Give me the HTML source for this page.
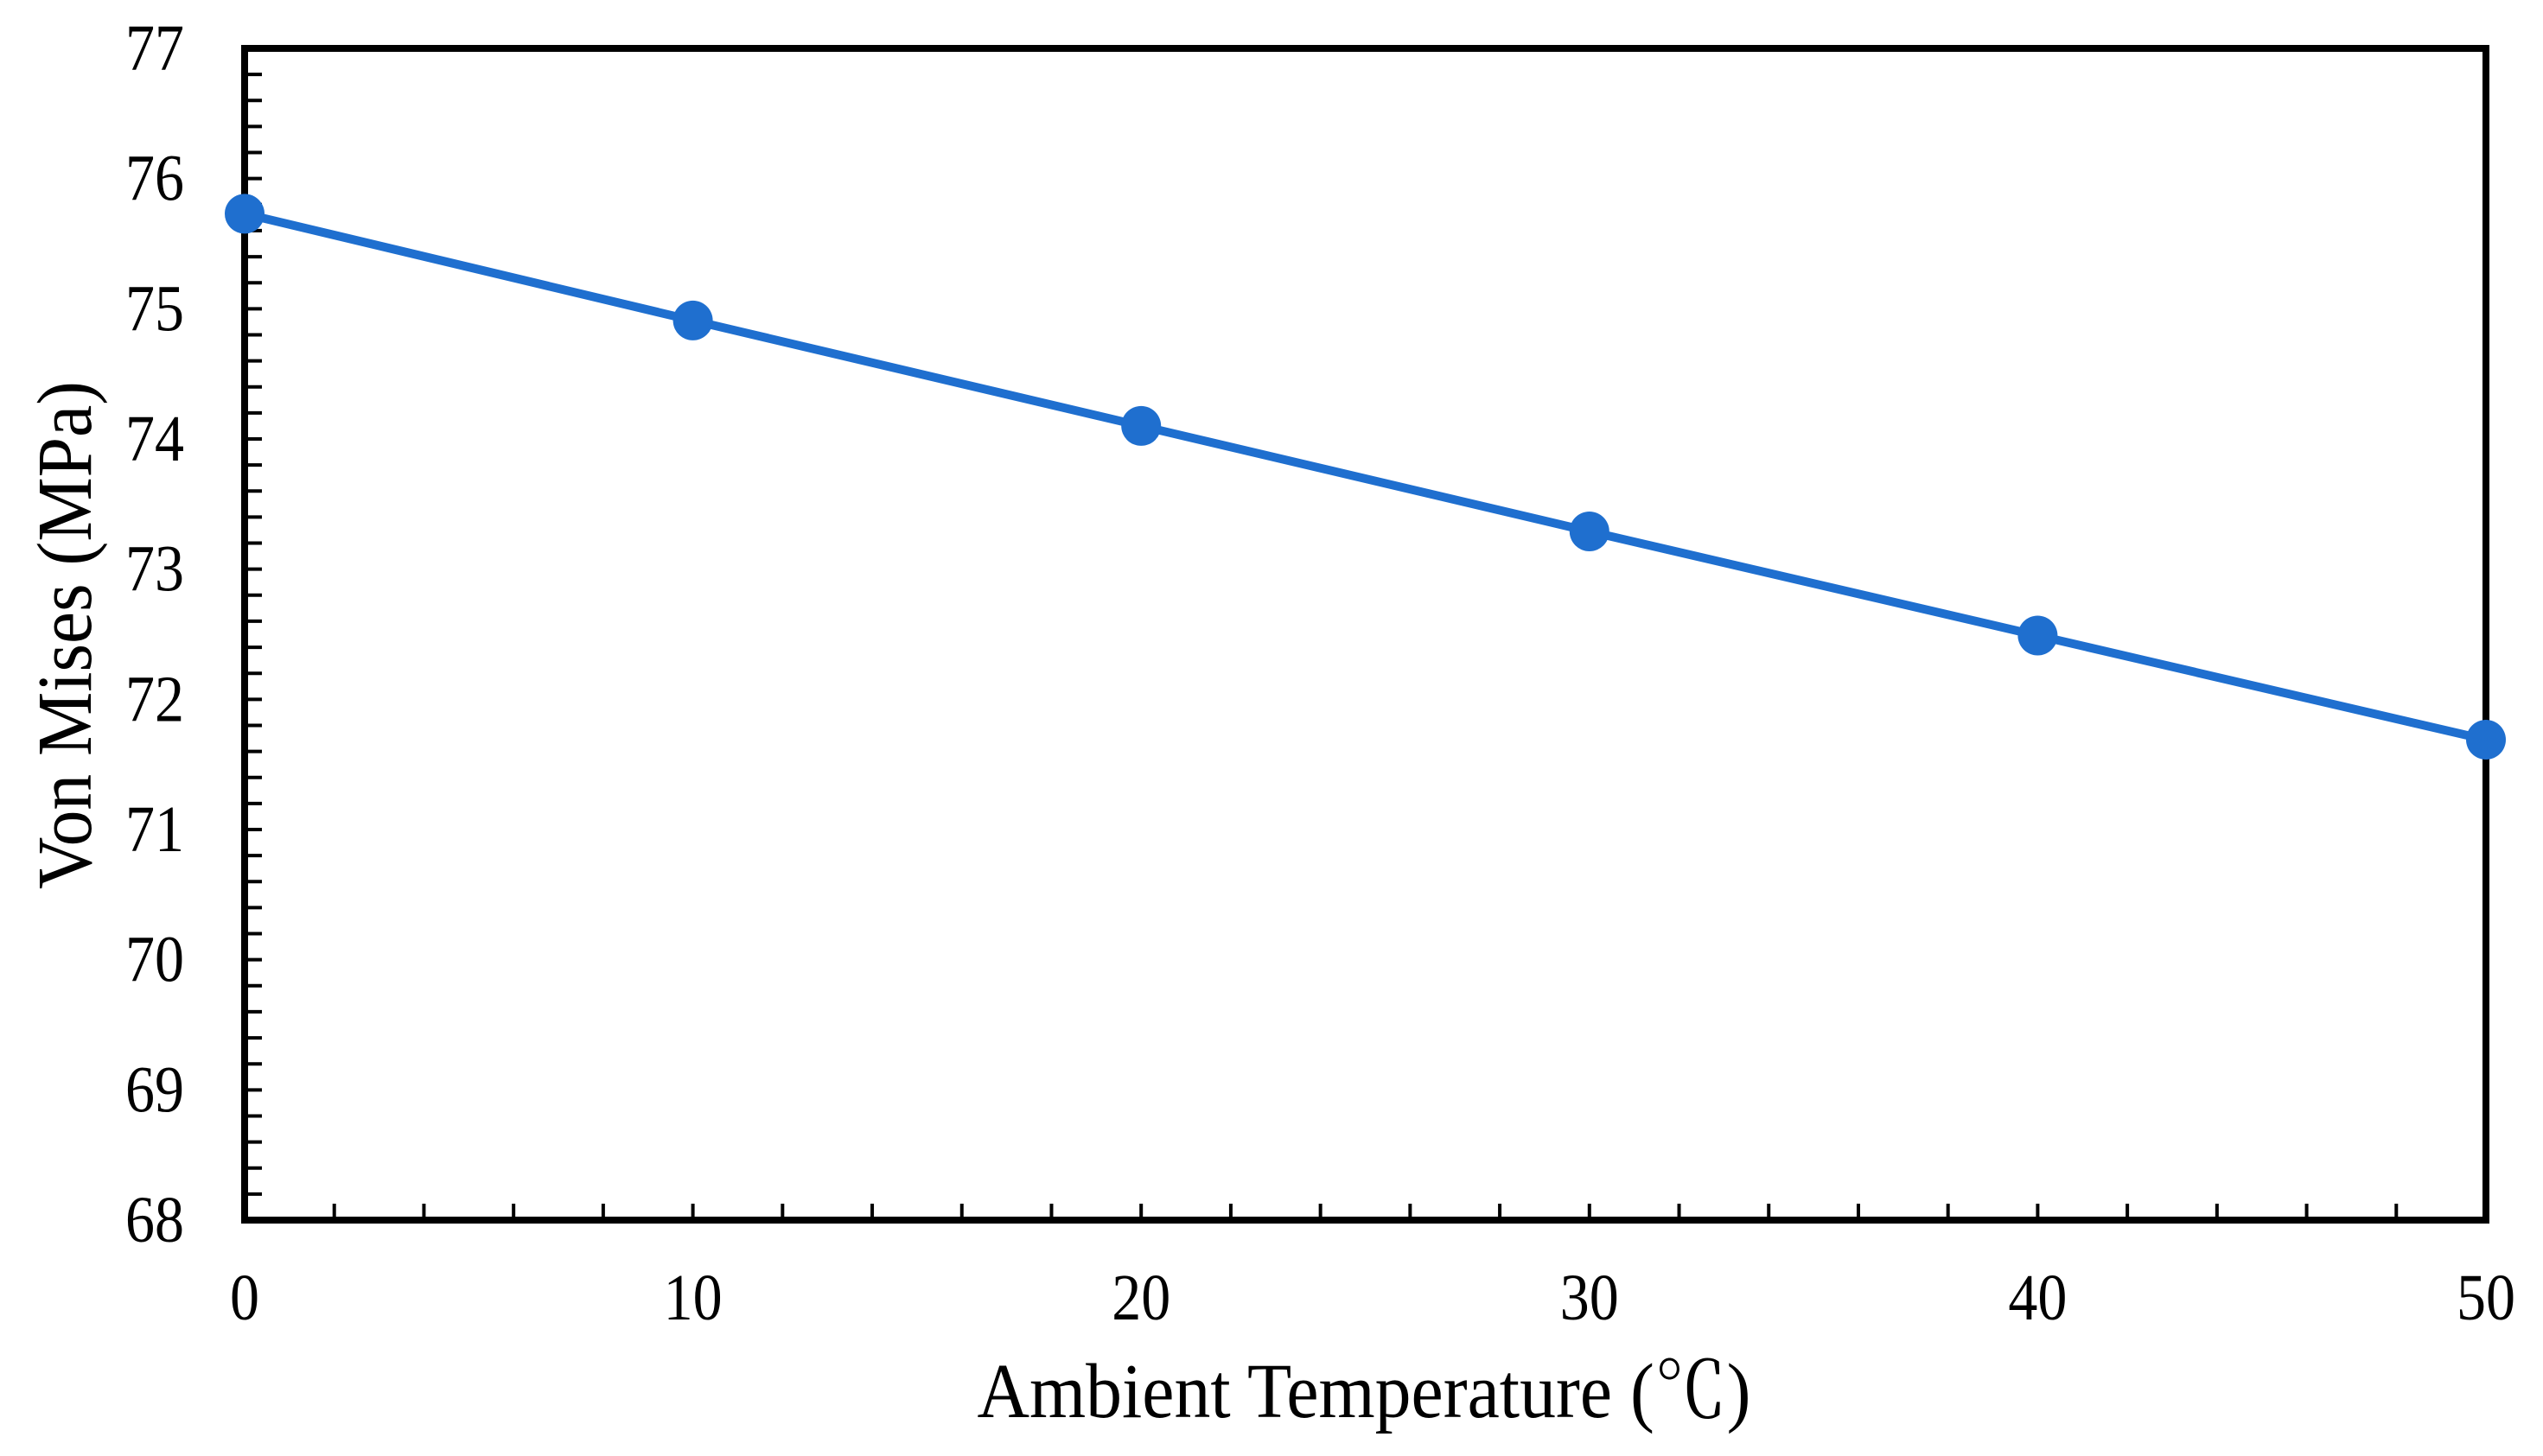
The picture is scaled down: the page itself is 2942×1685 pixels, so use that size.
<!DOCTYPE html>
<html><head><meta charset="utf-8"><style>
html,body{margin:0;padding:0;background:#fff;}
svg{display:block;font-family:"Liberation Serif","Noto Serif CJK SC",serif;}
</style></head><body>
<svg id="chart" width="2942" height="1685" viewBox="0 0 2942 1685" xmlns="http://www.w3.org/2000/svg">
<g id="ticks"></g>
<g id="labels"></g>
<rect x="283" y="56" width="2593" height="1356" fill="none" stroke="#000" stroke-width="8"/>
<g id="series"></g>
<text x="1578" y="1640" font-size="90" text-anchor="middle" textLength="895" lengthAdjust="spacingAndGlyphs">Ambient Temperature (℃)</text>
<text x="0" y="0" font-size="90" text-anchor="middle" textLength="588" lengthAdjust="spacingAndGlyphs" transform="translate(105,735) rotate(-90)">Von Mises (MPa)</text>
</svg>
<script>
const xValues = [0, 10, 20, 30, 40, 50];
const yValues = [75.73, 74.91, 74.1, 73.29, 72.49, 71.69];
const xTickLabels = ["0", "10", "20", "30", "40", "50"];
const yTickLabels = ["68", "69", "70", "71", "72", "73", "74", "75", "76", "77"];

const L = 283, R = 2876, T = 56, B = 1412;
const xMin = 0, xMax = 50, yMin = 68, yMax = 77;
function sx(v){ return L + (v - xMin) / (xMax - xMin) * (R - L); }
function sy(v){ return B - (v - yMin) / (yMax - yMin) * (B - T); }
const NS = "http://www.w3.org/2000/svg";
function mk(tag, attrs){ const e = document.createElementNS(NS, tag); for (const k in attrs) e.setAttribute(k, attrs[k]); return e; }

const ticks = document.getElementById('ticks');
for (let v = 68; v <= 77.001; v += 0.2) {
  const y = sy(v);
  const t = mk('line', {x1: L, x2: L + 20, y1: y, y2: y, stroke: '#000', 'stroke-width': 4});
  
  
  ticks.appendChild(t);
}
for (let v = 2; v < 50; v += 2) {
  const x = sx(v);
  const t = mk('line', {x1: x, x2: x, y1: B, y2: B - 19, stroke: '#000', 'stroke-width': 4});
  
  
  ticks.appendChild(t);
}
const labels = document.getElementById('labels');
yTickLabels.forEach(s => {
  const t = mk('text', {x: 213, y: sy(parseFloat(s)) + 25, 'font-size': 76, 'text-anchor': 'end', textLength: 68, lengthAdjust: 'spacingAndGlyphs'});
  
  
  t.textContent = s;
  labels.appendChild(t);
});
xTickLabels.forEach(s => {
  const t = mk('text', {x: sx(parseFloat(s)), y: 1527, 'font-size': 76, 'text-anchor': 'middle', textLength: 34 * s.length, lengthAdjust: 'spacingAndGlyphs'});
  
  
  t.textContent = s;
  labels.appendChild(t);
});
const series = document.getElementById('series');
const pts = xValues.map((x, i) => sx(x) + ',' + sy(yValues[i])).join(' ');
const line = mk('polyline', {points: pts, fill: 'none', stroke: '#1f6fcf', 'stroke-width': 10});


series.appendChild(line);
xValues.forEach((x, i) => {
  const c = mk('circle', {cx: sx(x), cy: sy(yValues[i]), r: 23, fill: '#1f6fcf'});
  
  
  series.appendChild(c);
});
</script>
</body></html>
